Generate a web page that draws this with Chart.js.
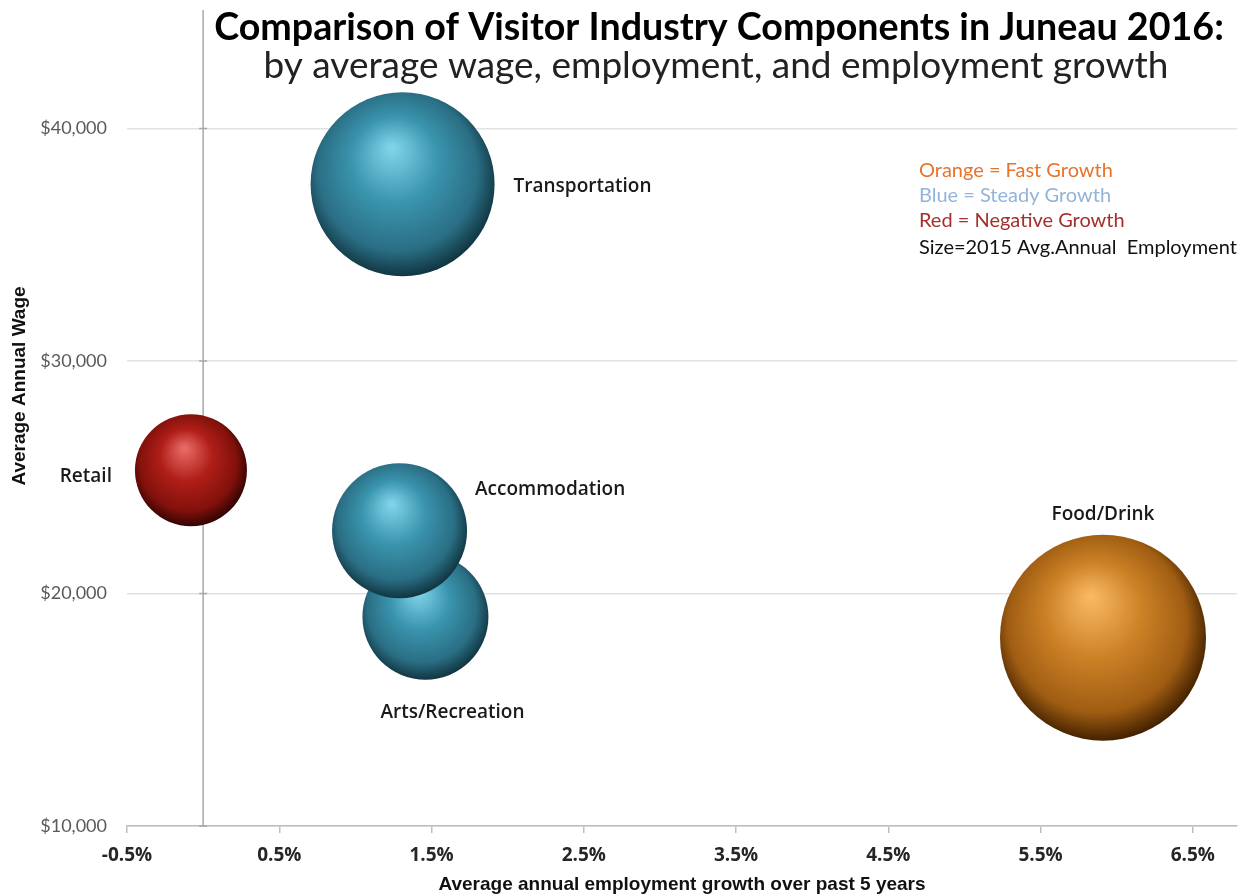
<!DOCTYPE html>
<html>
<head>
<meta charset="utf-8">
<script src="https://cdn.jsdelivr.net/npm/chart.js@4"></script>
<style>
  body { margin: 0; background: #fff; }
  #wrap { width: 1243px; height: 896px; }
</style>
</head>
<body>
<div id="wrap"><canvas id="myChart"></canvas></div>
<script>
// industries: 5-year employment growth (%), average annual wage ($), bubble size (px)
const industries = ["Transportation", "Retail", "Arts/Recreation", "Accommodation", "Food/Drink"];
const growth = [1.31, -0.08, 1.46, 1.29, 5.91];
const wages = [37600, 25300, 19000, 22700, 18100];
const sizes = [92, 56, 63, 67.5, 103];
const groups = ["steady", "negative", "steady", "steady", "fast"];
const labelSpots = ["right", "left", "below", "upright", "above"];

const xTicks = [-0.5, 0.5, 1.5, 2.5, 3.5, 4.5, 5.5, 6.5];
const yTicks = [10000, 20000, 30000, 40000];

const notes = ["Orange = Fast Growth", "Blue = Steady Growth", "Red = Negative Growth", "Size=2015 Avg.Annual  Employment"];
const noteColors = ["#e8742c", "#93b3da", "#a3302c", "#111111"];

// highlight, body, shade, rim
const palettes = {
    steady: ["#80d4ea", "#3a95ae", "#2a6e84", "#113642"],
    negative: ["#e96b66", "#b01e18", "#82110b", "#340303"],
    fast: ["#f9b862", "#cc8126", "#a05d12", "#442200"]
};

function sphere(c) {
    var i = c.dataIndex;
    var pal = palettes[groups[i]];
    var xs = c.chart.scales.x, ys = c.chart.scales.y;
    if (!xs || !ys) return pal[1];
    var cx = xs.getPixelForValue(growth[i]);
    var cy = ys.getPixelForValue(wages[i]);
    if (!isFinite(cx) || !isFinite(cy)) return pal[1];
    var r = sizes[i];
    var g = c.chart.ctx.createRadialGradient(cx - 0.12 * r, cy - 0.4 * r, r * 0.02, cx - 0.04 * r, cy - 0.08 * r, r * 1.08);
    g.addColorStop(0, pal[0]);
    g.addColorStop(0.42, pal[1]);
    g.addColorStop(0.8, pal[2]);
    g.addColorStop(1, pal[3]);
    return g;
}

function fitFont(ctx, text, weight, family, width) {
    ctx.font = weight + " 100px " + family;
    return 100 * width / ctx.measureText(text).width;
}

// vertical axis line crossing at 0%
const zeroLine = {
    id: "zeroLine",
    beforeDatasetsDraw(chart) {
        var ctx = chart.ctx, a = chart.chartArea;
        var x = chart.scales.x.getPixelForValue(0);
        ctx.save();
        ctx.strokeStyle = "#a8a8a8";
        ctx.lineWidth = 1.5;
        ctx.beginPath();
        ctx.moveTo(x, 10);
        ctx.lineTo(x, a.bottom);
        yTicks.forEach(v => {
            var y = chart.scales.y.getPixelForValue(v);
            ctx.moveTo(x - 4, y);
            ctx.lineTo(x + 4, y);
        });
        ctx.stroke();
        ctx.restore();
    }
};

const bubbleLabels = {
    id: "bubbleLabels",
    afterDatasetsDraw(chart) {
        var ctx = chart.ctx;
        var meta = chart.getDatasetMeta(0);
        ctx.save();
        ctx.font = "600 19px 'Open Sans'";
        ctx.fillStyle = "#1a1a1a";
        ctx.textBaseline = "middle";
        meta.data.forEach((pt, i) => {
            var r = sizes[i], x = pt.x, y = pt.y;
            var spot = labelSpots[i];
            if (spot == "right") { ctx.textAlign = "left"; ctx.fillText(industries[i], x + r + 19, y + 2); }
            if (spot == "left") { ctx.textAlign = "right"; ctx.fillText(industries[i], x - r - 23, y + 6); }
            if (spot == "below") { ctx.textAlign = "center"; ctx.fillText(industries[i], x + 27, y + r + 33); }
            if (spot == "upright") { ctx.textAlign = "left"; ctx.fillText(industries[i], x + r + 8, y - 41); }
            if (spot == "above") { ctx.textAlign = "center"; ctx.fillText(industries[i], x, y - r - 20); }
        });
        ctx.restore();
    }
};

const headings = {
    id: "headings",
    afterDraw(chart) {
        var ctx = chart.ctx;
        ctx.save();
        ctx.textAlign = "center";
        ctx.textBaseline = "alphabetic";
        var t = "Comparison of Visitor Industry Components in Juneau 2016:";
        var s = fitFont(ctx, t, "bold", "Lato", 1010);
        ctx.font = "bold " + s + "px Lato";
        ctx.fillStyle = "#000";
        ctx.fillText(t, 719, 40);
        var sub = "by average wage, employment, and employment growth";
        s = fitFont(ctx, sub, "normal", "Lato", 905);
        ctx.font = "normal " + s + "px Lato";
        ctx.fillStyle = "#222";
        ctx.fillText(sub, 716, 78);

        // y axis title sits a little above the plot centre
        ctx.save();
        ctx.translate(20, 386);
        ctx.rotate(-Math.PI / 2);
        ctx.textBaseline = "middle";
        ctx.font = "bold 19px 'Liberation Sans'";
        ctx.fillStyle = "#111";
        ctx.fillText("Average Annual Wage", 0, 0);
        ctx.restore();

        ctx.textAlign = "left";
        ctx.textBaseline = "middle";
        s = fitFont(ctx, notes[3], "normal", "Lato", 318);
        ctx.font = "normal " + s + "px Lato";
        var ny = [171, 196, 221, 248];
        notes.forEach((n, i) => {
            ctx.fillStyle = noteColors[i];
            ctx.fillText(n, 919, ny[i]);
        });
        ctx.restore();
    }
};

ctx = document.getElementById("myChart").getContext("2d");

new Chart(ctx, {
    type: "bubble",
    data: {
        datasets: [{
            label: "Industries",
            data: industries.map((n, i) => ({ x: growth[i], y: wages[i], r: sizes[i] })),
            backgroundColor: sphere,
            borderWidth: 0,
            hoverRadius: 0,
            clip: false
        }]
    },
    options: {
        responsive: true,
        maintainAspectRatio: false,
        animation: false,
        events: [],
        layout: { autoPadding: false, padding: { top: 13, right: 6, left: 0, bottom: 0 } },
        plugins: {
            legend: { display: false },
            tooltip: { enabled: false }
        },
        scales: {
            x: {
                type: "linear",
                min: -0.5,
                max: 6.79,
                afterBuildTicks: s => { s.ticks = xTicks.map(v => ({ value: v })); },
                afterFit: s => { s.height = 70; },
                ticks: {
                    callback: v => v.toFixed(1) + "%",
                    font: { family: "Open Sans", size: 19, weight: "bold" },
                    color: "#262626",
                    padding: 11,
                    maxRotation: 0,
                    autoSkip: false
                },
                grid: { drawOnChartArea: false, drawTicks: true, tickLength: 7, color: "#bdbdbd", lineWidth: 1.5 },
                border: { color: "#bdbdbd", width: 1.5 },
                title: {
                    display: true,
                    text: "Average annual employment growth over past 5 years",
                    font: { family: "Liberation Sans", size: 19, weight: "bold" },
                    color: "#111",
                    padding: { top: 2, bottom: 0 }
                }
            },
            y: {
                type: "linear",
                min: 10000,
                max: 44200,
                afterBuildTicks: s => { s.ticks = yTicks.map(v => ({ value: v })); },
                afterFit: s => { s.width = 127; },
                ticks: {
                    callback: v => "$" + v.toLocaleString("en-US"),
                    font: { family: "Lato", size: 18 },
                    color: "#5a5a5a",
                    padding: 20
                },
                grid: { color: "#e2e2e2", lineWidth: 1.5, drawTicks: false },
                border: { display: false }
            }
        }
    },
    plugins: [zeroLine, bubbleLabels, headings]
});
</script>
</body>
</html>
